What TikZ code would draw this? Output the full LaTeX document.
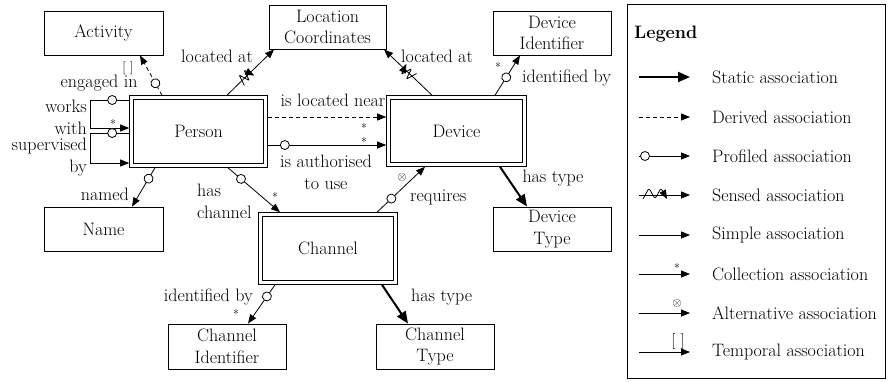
\documentclass[tikz,border=0pt]{standalone}
\usepackage{fontspec}
\usetikzlibrary{arrows.meta,decorations.markings,calc}
\begin{document}
\begin{tikzpicture}[x=1pt,y=-1pt,
  every node/.style={font=\rmfamily\fontsize{18}{21.5}\selectfont, inner sep=0pt},
  box/.style={draw, line width=0.9pt, minimum width=#1, minimum height=44pt, align=center},
  dbox/.style={draw, double, double distance=2.6pt, line width=0.8pt, outer sep=2.3pt},
  lbl/.style={align=center},
  smalltxt/.style={font=\rmfamily\fontsize{12}{14}\selectfont},
  alttxt/.style={font=\rmfamily\fontsize{13}{14}\selectfont},
  assoc/.style={line width=0.8pt, -{Triangle[length=9pt,width=7pt]}},
  static/.style={line width=2pt, -{Triangle[length=12pt,width=10pt]}},
  derived/.style={assoc, dash pattern=on 4pt off 3pt},
  prof/.style={postaction={decorate,decoration={markings,
     mark=at position #1 with {\draw[solid,fill=white,line width=0.8pt] (0,0) circle (4.5pt);}}}},
  sensed/.style={postaction={decorate,decoration={markings,
     mark=at position #1 with {\draw[solid,line width=0.8pt,rounded corners=1pt] (-7,5) -- (-3.5,-6) -- (0,5) -- (3.5,-6) -- (7,5);}}}},
  bigsensed/.style={postaction={decorate,decoration={markings,
     mark=at position #1 with {\draw[solid,line width=0.8pt,rounded corners=2.5pt] (-12,4) -- (-6,-7) -- (0,4) -- (6,-7) -- (12,4);}}}},
]
\useasboundingbox (0,0) rectangle (890,381);

% entities
\node[box=119] (activity) at (103.5,33) {Activity};
\node[box=117] (loc) at (327.5,27) {Location\\Coordinates};
\node[box=118] (devid) at (552,33) {Device\\Identifier};
\node[dbox, minimum width=134pt, minimum height=68pt] (person) at (198.5,131.5) {Person};
\node[dbox, minimum width=136pt, minimum height=67pt] (device) at (456.5,131) {Device};
\node[dbox, minimum width=135pt, minimum height=68pt] (channel) at (328,248.5) {Channel};
\node[box=119] (name) at (103.5,229) {Name};
\node[box=118] (devtype) at (552,229) {Device\\Type};
\node[box=118, minimum height=45pt] (chanid) at (227,346.5) {Channel\\Identifier};
\node[box=118, minimum height=45pt] (chantype) at (435,346.5) {Channel\\Type};

% engaged in
\draw[derived, prof=0.3] (person.north -| 162,0) -- (activity.south -| 140,0);
\node[alttxt] (tmpA) at (128,68) {[\,\,]};
\node (lEng) at (99,83) {engaged in};

% works with
\draw[assoc, prof=17pt] (person.west |- 0,100) -- ++(-39,0) |- (person.west |- 0,128);
\node[smalltxt] (sWorks) at (113,124) {*};
\node[align=right, anchor=east] (lWorks) at (87,117.5) {works\\with};

% supervised by
\draw[assoc, prof=17pt] (person.west |- 0,133) -- ++(-39,0) |- (person.west |- 0,163);
\node[align=right, anchor=east] (lSup) at (87,157) {supervised\\by};

% located at
\draw[assoc, sensed=0.4] (person.north -| 227,0) -- (loc.south -| 274,0);
\node (lLoc1) at (217,56) {located at};
\draw[assoc, sensed=0.5] (device.north -| 432,0) -- (loc.south -| 384,0);
\node (lLoc2) at (437,56) {located at};

% identified by (device)
\draw[assoc, prof=0.45] (device.north -| 495,0) -- (devid.south -| 520,0);
\node[smalltxt] (sDevId) at (498,67) {*};
\node[anchor=west] (lDevId) at (522,78) {identified by};

% is located near
\draw[derived] (person.east |- 0,117) -- (device.west |- 0,117);
\node (lNear) at (333,100) {is located near};
\node[smalltxt] (sNear) at (364,128) {*};

% is authorised to use
\draw[assoc, prof=17pt] (person.east |- 0,145) -- (device.west |- 0,145);
\node[smalltxt] (sAuth) at (364,142) {*};
\node[lbl] (lAuth) at (326,172.5) {is authorised\\to use};

% requires
\draw[assoc, prof=0.3] (channel.north -| 377,0) -- (device.south -| 425,0);
\node[alttxt] (aReq) at (402,177) {$\otimes$};
\node[anchor=west] (lReq) at (410,197) {requires};

% has type (device)
\draw[static] (device.south -| 500,0) -- (devtype.north -| 527,0);
\node (lDevType) at (553,178) {has type};

% has channel
\draw[assoc, prof=0.25] (person.south -| 228,0) -- (channel.north -| 280,0);
\node[smalltxt] (sChan) at (275,197) {*};
\node[align=left, anchor=west] (lChan) at (197,201.5) {has\\channel};

% named
\draw[assoc, prof=0.28] (person.south -| 155,0) -- (name.north -| 132,0);
\node[anchor=east] (lNamed) at (129,194) {named};

% identified by (channel)
\draw[assoc, prof=0.3] (channel.south -| 275,0) -- (chanid.north -| 248,0);
\node[smalltxt] (sChanId) at (236,314) {*};
\node[anchor=east] (lChanId) at (253,297) {identified by};

% has type (channel)
\draw[static] (channel.south -| 382,0) -- (chantype.north -| 408,0);
\node[anchor=west] (lChanType) at (411,297) {has type};

% legend
\node[draw, line width=0.9pt, minimum width=258pt, minimum height=374pt] (legend) at (756.5,191) {};
\node[anchor=west, font=\rmfamily\fontsize{18}{21.5}\selectfont\bfseries] (lLegend) at (634,34) {Legend};
\foreach \i/\y/\t in {1/77/Static association, 2/117/Derived association, 3/156/Profiled association,
  4/195/Sensed association, 5/235/Simple association, 6/274/Collection association,
  7/313/Alternative association, 8/352/Temporal association} {
  \coordinate (ls\i) at (639,\y);
  \coordinate (le\i) at (690,\y);
  \node[anchor=west] (lt\i) at (712,\y) {\t};
}
\draw[static] (ls1) -- (le1);
\draw[derived] (ls2) -- (le2);
\draw[assoc, prof=6pt] (ls3) -- (le3);
\draw[assoc, bigsensed=16pt] (ls4) -- (le4);
\draw[assoc] (ls5) -- (le5);
\draw[assoc] (ls6) -- (le6);
\node[smalltxt] (sLeg) at (677,268) {*};
\draw[assoc] (ls7) -- (le7);
\node[alttxt] (aLeg) at (677,303) {$\otimes$};
\draw[assoc] (ls8) -- (le8);
\node[font=\rmfamily\fontsize{16}{18}\selectfont] (tLeg) at (678,341) {[\,\,]};
\end{tikzpicture}
\end{document}
